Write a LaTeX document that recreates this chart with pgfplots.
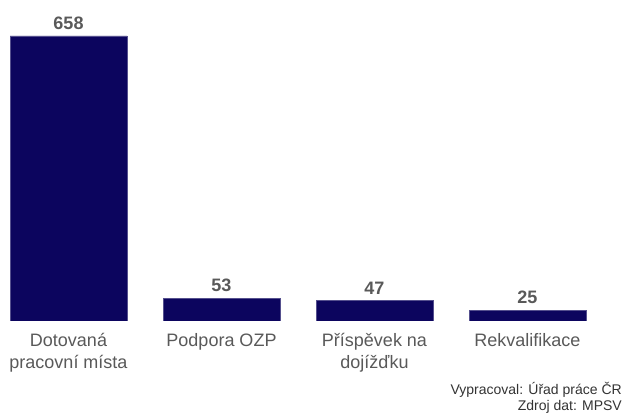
\documentclass[border=0pt]{standalone}
\usepackage{pgfplots}
\pgfplotsset{compat=1.18}
\usepackage{fontspec}
\setmainfont{Liberation Sans}
\definecolor{barc}{RGB}{12,5,94}
\definecolor{labc}{RGB}{89,89,89}
\begin{document}
\begin{tikzpicture}[x=1pt,y=1pt]
\useasboundingbox (0,0) rectangle (625,413);
\begin{axis}[
  at={(-8pt,92pt)}, anchor=south west,
  scale only axis, width=612pt, height=321pt,
  xmin=-0.5, xmax=3.5, ymin=0, ymax=741,
  axis line style={draw=none},
  ytick=\empty,
  ybar, bar width=117pt,
  xtick=data,
  xticklabels={{Dotovaná\\pracovní místa},{Podpora OZP},{Příspěvek na\\dojížďku},{Rekvalifikace}},
  xticklabel style={align=center, font=\fontsize{18}{21.5}\selectfont, text=labc, anchor=north, yshift=-9pt},
  major tick length=0pt,
  /pgf/number format/assume math mode=true,
  nodes near coords,
  every node near coord/.append style={font=\bfseries\fontsize{18}{21}\selectfont, text=labc, anchor=south, yshift=2.5pt},
]
\addplot[fill=barc, draw=barc!70!white, line width=0.5pt] coordinates {(0,658) (1,53) (2,47) (3,25)};
\end{axis}
\node[anchor=north east, align=right, font=\fontsize{14}{16.5}\selectfont, text=black!80, inner sep=0pt] at (622,31) {Vypracoval: Úřad práce ČR\\Zdroj dat: MPSV};
\end{tikzpicture}
\end{document}
